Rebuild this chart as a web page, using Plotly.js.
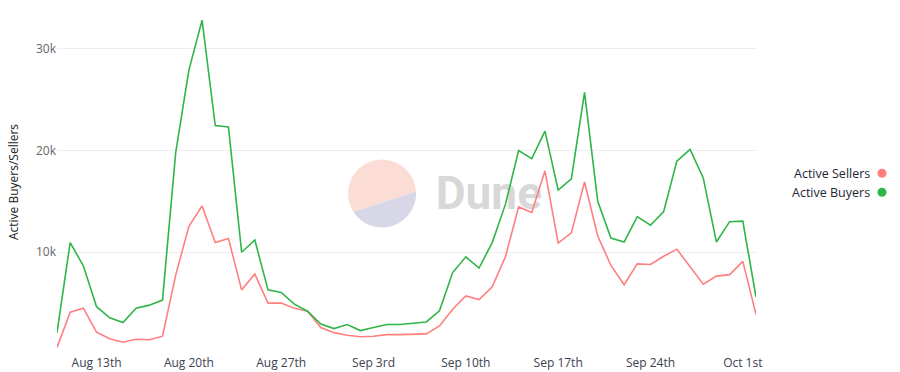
<!DOCTYPE html>
<html>
<head>
<meta charset="utf-8">
<script src="https://cdn.plot.ly/plotly-3.0.1.min.js"></script>
<style>html,body{margin:0;padding:0;background:#fff;}#chart{width:900px;height:372px;}</style>
</head>
<body>
<div id="chart"></div>
<script>
const dates = [
 "2023-08-10","2023-08-11","2023-08-12","2023-08-13","2023-08-14","2023-08-15","2023-08-16","2023-08-17","2023-08-18","2023-08-19",
 "2023-08-20","2023-08-21","2023-08-22","2023-08-23","2023-08-24","2023-08-25","2023-08-26","2023-08-27","2023-08-28","2023-08-29",
 "2023-08-30","2023-08-31","2023-09-01","2023-09-02","2023-09-03","2023-09-04","2023-09-05","2023-09-06","2023-09-07","2023-09-08",
 "2023-09-09","2023-09-10","2023-09-11","2023-09-12","2023-09-13","2023-09-14","2023-09-15","2023-09-16","2023-09-17","2023-09-18",
 "2023-09-19","2023-09-20","2023-09-21","2023-09-22","2023-09-23","2023-09-24","2023-09-25","2023-09-26","2023-09-27","2023-09-28",
 "2023-09-29","2023-09-30","2023-10-01","2023-10-02"];

const activeSellers = [
 650,4100,4500,2150,1500,1150,1450,1400,1750,7750,
 12550,14550,10950,11350,6300,7850,5000,5000,4500,4200,
 2600,2100,1850,1700,1750,1900,1900,1950,1980,2750,
 4400,5700,5350,6600,9550,14450,13900,18000,10900,11900,
 16900,11600,8700,6800,8850,8800,9600,10300,8600,6850,
 7650,7800,9100,3900];

const activeBuyers = [
 2100,10950,8650,4650,3550,3100,4500,4800,5300,19800,
 27900,32800,22450,22300,10000,11200,6300,6050,4900,4200,
 2950,2500,2900,2300,2600,2900,2900,3050,3150,4250,
 8000,9550,8450,10950,14700,20000,19200,21900,16100,17200,
 25700,15000,11400,11000,13500,12650,14000,18950,20100,17300,
 11000,13000,13050,5600];

const seriesNames = ["Active Sellers", "Active Buyers"];
const seriesColors = ["#ff7f7f", "#2fb548"];

const xTickVals = ["2023-08-13","2023-08-20","2023-08-27","2023-09-03","2023-09-10","2023-09-17","2023-09-24","2023-10-01"];
const xTickText = ["Aug 13th","Aug 20th","Aug 27th","Sep 3rd","Sep 10th","Sep 17th","Sep 24th","Oct 1st"];
const yTickVals = [10000, 20000, 30000];
const yTickText = ["10k", "20k", "30k"];

const FONT = "Open Sans, Inter, sans-serif";

const traces = [
  {x: dates, y: activeSellers, name: seriesNames[0], type: "scatter", mode: "lines",
   line: {color: seriesColors[0], width: 1.6}, showlegend: false},
  {x: dates, y: activeBuyers, name: seriesNames[1], type: "scatter", mode: "lines",
   line: {color: seriesColors[1], width: 1.6}, showlegend: false}
];

const wm = '<svg xmlns="http://www.w3.org/2000/svg" width="200" height="70" viewBox="0 0 200 70">' +
  '<path d="M5.6,52.7 A34,34 0 1,1 68.3,32.7 Z" fill="#fbddd5"/>' +
  '<path d="M68.3,32.7 A34,34 0 0,1 5.6,52.7 Z" fill="#d7d7e7"/>' +
  '<text x="88" y="50" font-family="Roboto, Arial, sans-serif" font-weight="bold" font-size="46" fill="#d8d8d8">Dune</text>' +
  '</svg>';
const wmUri = "data:image/svg+xml;base64," + btoa(wm);

const legendAnn = seriesNames.map((n, i) => ({
  text: n, xref: "paper", yref: "paper", x: (872 - 57) / 699, y: (354 - (173.3 + 19 * i)) / 344,
  xanchor: "right", yanchor: "middle", showarrow: false,
  font: {family: FONT, size: 12.5, color: "#1e2535"}
}));
const legendDots = seriesColors.map((c, i) => {
  const cx = (882 - 57) / 699, cy = (354 - (173.3 + 19 * i)) / 344;
  return {type: "circle", xref: "paper", yref: "paper",
    x0: cx - 4.5 / 699, x1: cx + 4.5 / 699, y0: cy - 4.5 / 344, y1: cy + 4.5 / 344,
    fillcolor: c, line: {width: 0}};
});

const layout = {
  width: 900, height: 372,
  margin: {l: 57, r: 144, t: 10, b: 18},
  paper_bgcolor: "#ffffff", plot_bgcolor: "#ffffff",
  font: {family: FONT, size: 12, color: "#333"},
  showlegend: false,
  xaxis: {
    type: "date", range: ["2023-08-10", "2023-10-02"],
    tickvals: xTickVals, ticktext: xTickText,
    showgrid: false, zeroline: false, showline: false, ticks: "",
    tickfont: {family: FONT, size: 12, color: "#3a4150"}
  },
  yaxis: {
    range: [0, 33800],
    tickvals: yTickVals, ticktext: yTickText,
    showgrid: true, gridcolor: "#eeeeee", gridwidth: 1,
    zeroline: false, showline: false, ticks: "",
    tickfont: {family: FONT, size: 12, color: "#666"},
    title: {text: "Active Buyers/Sellers", standoff: 14, font: {family: FONT, size: 12, color: "#222"}}
  },
  images: [{source: wmUri, xref: "paper", yref: "paper",
    x: (347.7 - 57) / 699, y: (354 - 159) / 344, sizex: 200 / 699, sizey: 70 / 344,
    xanchor: "left", yanchor: "top", sizing: "stretch", layer: "below"}],
  annotations: legendAnn,
  shapes: legendDots
};

Plotly.newPlot("chart", traces, layout, {displayModeBar: false, staticPlot: true});
</script>
</body>
</html>
